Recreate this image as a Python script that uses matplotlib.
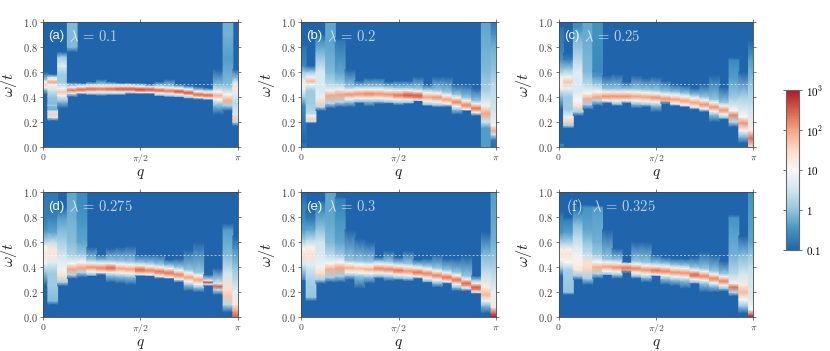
import numpy as np
import matplotlib
matplotlib.use("Agg")
import matplotlib.pyplot as plt
from matplotlib.colors import LogNorm, LinearSegmentedColormap

plt.rcParams["mathtext.fontset"] = "cm"
plt.rcParams["font.family"] = ["Liberation Sans", "DejaVu Sans"]

# spectral weight is kept as log10(A): -1 is the blue floor, 1 is the pale middle, 3 the top
# each column: ridge position, ridge level, lower and upper edge of the coloured part
# columns in *_cols are read as explicit (omega, log10 A) lists instead
a_peak = [.50, .52, .43, .455, .46, .465, .465, .465, .465, .465, .46, .46, .455, .45, .445, .435, .42, .415, .40, .375, .23]
a_level = [1.7, 2.0, 1.7, 2.3, 2.4, 2.4, 2.3, 2.4, 2.5, 2.5, 2.6, 2.5, 2.4, 2.3, 2.5, 2.5, 2.4, 2.4, 1.9, 1.9, 1.7]
a_low = [.42, .22, .32, .41, .42, .42, .41, .42, .42, .425, .425, .425, .41, .40, .40, .39, .38, .375, .26, .29, .18]
a_high = [.60, .58, .76, .52, .51, .52, .54, .52, .51, .51, .51, .50, .52, .54, .50, .49, .48, .47, .62, 1.0, .62]
a_cols = {
    1: [(.21, -1), (.235, .6), (.26, 1.6), (.285, .6), (.30, -.2), (.33, -.1), (.335, .2), (.345, -.1), (.40, 0), (.46, .6), (.50, 1.2), (.52, 2.0), (.54, 1.2), (.56, .5), (.58, -1)],
    2: [(.31, -1), (.36, -.1), (.41, .9), (.44, 1.7), (.47, .9), (.52, .1), (.58, .1), (.65, .7), (.72, .1), (.76, -1)],
    3: [(.40, -1), (.43, .8), (.455, 2.3), (.48, .9), (.52, -1), (.76, -1), (.80, -.1), (1.0, -.1)],
    18: [(.26, -1), (.33, -.1), (.38, 1.0), (.41, 1.9), (.44, 1.0), (.50, -.1), (.62, -1)],
    19: [(.29, -1), (.33, .2), (.375, 1.9), (.42, 1.0), (.50, -.1), (.70, -.4), (.90, -.2), (1.0, -.2)],
    20: [(.17, -1), (.20, .4), (.23, 1.7), (.26, .6), (.35, .3), (.42, .7), (.47, 1.3), (.52, .5), (.62, -1)],
}

b_peak = [.49, .525, .365, .41, .42, .42, .425, .425, .425, .42, .415, .415, .41, .40, .395, .38, .36, .335, .31, .267, .13]
b_level = [1.2, 1.8, 1.5, 2.0, 2.0, 2.1, 2.1, 2.2, 2.1, 2.1, 2.3, 2.5, 2.5, 2.0, 2.1, 2.0, 2.2, 2.2, 2.3, 2.0, 2.0]
b_low = [.33, .19, .29, .31, .32, .32, .35, .325, .345, .35, .335, .35, .37, .33, .32, .32, .26, .29, .25, 0, 0]
b_high = [.82, .65, .90, 1.0, .85, .62, .53, .55, .55, .52, .53, .53, .56, .50, .56, .56, .50, .50, .47, 1.0, 1.0]
b_cols = {
    0: [(0, -.8), (.03, -.8), (.033, -1), (.33, -.6), (.40, .2), (.47, .9), (.50, 1.2), (.53, .8), (.60, .1), (.65, -.6), (.70, -.7), (.80, -.8), (.82, -1)],
    1: [(.19, -1), (.205, .5), (.225, 1.6), (.25, .9), (.27, .3), (.35, .1), (.45, .1), (.50, .9), (.525, 1.8), (.56, .9), (.60, .1), (.65, -1)],
    2: [(.29, -1), (.32, .3), (.365, 1.5), (.40, .8), (.45, .6), (.60, .6), (.75, -.1), (.85, -.5), (.90, -1)],
    3: [(.31, -1), (.35, .3), (.41, 2.0), (.45, .9), (.50, .3), (.60, -.1), (.80, -.3), (1.0, -.3)],
    4: [(.32, -1), (.36, .3), (.42, 2.0), (.46, .9), (.52, 0), (.60, -.3), (.85, -.8), (.87, -1)],
    19: [(0, -.4), (.15, -.4), (.20, .5), (.267, 2.0), (.33, .9), (.45, .2), (.60, -.1), (1.0, -.3)],
    20: [(0, -.9), (.06, -.7), (.10, .5), (.13, 2.0), (.17, 1.1), (.30, .5), (.50, .3), (.60, 0), (.80, -.2), (.90, -.5), (1.0, -.8)],
}

c_peak = [.50, .52, .33, .385, .40, .405, .405, .405, .405, .40, .395, .385, .38, .37, .355, .34, .32, .295, .255, .19, .07]
c_level = [1.2, 1.7, 1.4, 1.9, 2.0, 2.1, 2.1, 2.1, 2.0, 2.0, 2.1, 2.1, 2.0, 2.0, 2.0, 2.1, 2.1, 2.1, 2.2, 2.1, 2.4]
c_low = [.30, .15, .25, .30, .33, .35, .33, .35, .31, .32, .28, .35, .33, .32, .30, .28, .20, .22, .16, .03, 0]
c_high = [.95, .75, 1.0, 1.0, 1.0, .57, .58, .52, .57, .55, .56, .53, .50, .49, .47, .50, .57, .48, .70, .60, .85]
c_cols = {
    0: [(0, -.8), (.02, -.5), (.03, -1), (.30, -1), (.40, -.1), (.47, .9), (.50, 1.2), (.56, .9), (.60, .2), (.70, -.5), (.80, -.7), (.95, -.8), (.96, -1)],
    1: [(.15, -1), (.17, .2), (.20, 1.6), (.24, .8), (.30, .1), (.40, .1), (.47, .8), (.52, 1.7), (.56, .9), (.62, .1), (.70, -.7), (.75, -1)],
    2: [(.25, -1), (.28, .2), (.33, 1.4), (.37, 1.0), (.45, .6), (.60, .7), (.70, .3), (.85, -.1), (.95, -.5), (1.0, -.6)],
    3: [(.30, -1), (.34, .2), (.385, 1.9), (.43, 1.0), (.50, .3), (.60, -.1), (.80, -.2), (1.0, -.3)],
    4: [(.33, -1), (.37, .3), (.40, 2.0), (.44, 1.0), (.50, .1), (.56, -.4), (.60, -.6), (1.0, -.5)],
    18: [(.16, -1), (.20, .3), (.255, 2.2), (.29, 1.0), (.40, .1), (.55, -.4), (.70, -.6), (.71, -1)],
    19: [(.03, -1), (.08, -.1), (.13, 1.0), (.19, 2.1), (.24, 1.0), (.40, .2), (.60, -1)],
    20: [(0, 1.5), (.07, 2.4), (.13, 1.2), (.30, .5), (.50, 0), (.70, -.4), (.85, -1)],
}

d_peak = [.50, .52, .33, .385, .395, .40, .395, .395, .39, .385, .38, .375, .365, .355, .34, .32, .30, .28, .245, .17, .03]
d_level = [1.3, 1.3, 1.4, 2.0, 2.0, 2.1, 2.2, 2.4, 2.0, 2.0, 2.4, 2.2, 2.3, 2.3, 2.2, 2.0, 2.0, 2.6, 2.5, 1.7, 2.5]
d_low = [.25, .10, .25, .31, .32, .33, .34, .28, .27, .26, .33, .33, .31, .31, .28, .21, .20, .25, .18, .04, 0]
d_high = [1.0, 1.0, .87, 1.0, 1.0, .56, .50, .55, .56, .57, .50, .50, .50, .46, .47, .54, .60, .34, .39, .75, .65]
d_cols = {
    0: [(.25, -1), (.33, -.2), (.43, .9), (.50, 1.3), (.56, 1.0), (.62, .1), (.70, -.5), (.78, -.7), (1.0, -.8)],
    1: [(.10, -1), (.13, -.1), (.25, .1), (.35, .1), (.44, .7), (.50, 1.3), (.55, 1.3), (.60, .4), (.68, -.3), (.80, -.7), (1.0, -.8)],
    2: [(.25, -1), (.28, .2), (.33, 1.4), (.38, .9), (.50, .5), (.60, .2), (.70, -.1), (.80, -.4), (.87, -.9)],
    3: [(.31, -1), (.34, .3), (.385, 2.0), (.43, 1.0), (.50, .2), (.60, -.05), (.80, -.2), (1.0, -.3)],
    4: [(.32, -1), (.36, .3), (.395, 2.0), (.44, 1.0), (.50, .1), (.60, -.3), (.80, -.5), (1.0, -.6)],
    17: [(.25, -1), (.265, .6), (.28, 2.6), (.295, .6), (.34, -1)],
    18: [(.18, -1), (.22, .4), (.245, 2.5), (.27, .6), (.39, -1)],
    19: [(.04, -1), (.10, .3), (.17, 1.7), (.22, 1.4), (.35, .5), (.50, -.1), (.70, -.4), (.75, -1)],
    20: [(0, 2.5), (.05, 2.0), (.10, 1.3), (.20, .8), (.30, .3), (.40, 0), (.55, -.5), (.65, -1)],
}

e_peak = [.50, .50, .35, .385, .395, .395, .39, .385, .39, .385, .375, .37, .36, .35, .335, .32, .30, .27, .237, .18, .03]
e_level = [1.4, 1.4, 1.5, 1.9, 2.0, 1.9, 1.8, 1.9, 2.2, 2.2, 2.3, 2.1, 2.3, 2.2, 2.2, 2.3, 2.3, 2.4, 2.5, 1.8, 3.0]
e_low = [.30, .13, .27, .28, .28, .30, .23, .27, .31, .29, .30, .29, .31, .28, .24, .27, .21, .21, .19, .03, 0]
e_high = [.90, .85, .92, 1.0, .95, .70, .63, .60, .48, .53, .48, .53, .46, .47, .50, .47, .47, .49, .33, .68, 1.0]
e_cols = {
    0: [(.30, -.6), (.42, .6), (.50, 1.4), (.55, 1.0), (.62, .1), (.70, -.4), (.80, -.6), (.90, -.7), (1.0, -1)],
    1: [(.13, -1), (.16, 0), (.30, .2), (.42, .7), (.50, 1.4), (.56, 1.1), (.62, .3), (.70, -.3), (.78, -.7), (.85, -1)],
    2: [(.27, -1), (.30, .2), (.35, 1.5), (.40, .9), (.50, .6), (.60, .5), (.70, 0), (.85, -.5), (.92, -.8)],
    3: [(.28, -1), (.32, .2), (.385, 1.9), (.43, 1.0), (.50, .3), (.60, -.1), (.80, -.3), (1.0, -.3)],
    4: [(.28, -1), (.33, .2), (.395, 2.0), (.44, 1.0), (.50, .1), (.60, -.3), (.80, -.5), (.95, -.7), (.96, -1)],
    19: [(.03, -1), (.09, -.1), (.13, .9), (.18, 1.8), (.24, 1.2), (.35, .4), (.50, -.1), (.68, -1)],
    20: [(0, 3.0), (.03, 2.5), (.08, 1.3), (.20, .8), (.40, .2), (.60, -.2), (1.0, -.4)],
}

f_peak = [.50, .50, .38, .40, .40, .405, .40, .395, .39, .38, .375, .37, .36, .355, .34, .33, .31, .29, .24, .20, .03]
f_level = [1.4, 1.4, 1.3, 1.5, 1.9, 2.0, 2.1, 2.3, 2.2, 2.1, 2.3, 2.2, 2.1, 2.1, 2.4, 2.2, 2.2, 2.2, 2.4, 1.8, 3.0]
f_low = [.33, .18, .30, .26, .31, .34, .31, .36, .31, .28, .33, .26, .25, .23, .27, .20, .20, .21, .17, .03, 0]
f_high = [.80, .78, .85, .90, .88, .70, .55, .44, .60, .60, .50, .48, .47, .47, .48, .52, .50, .45, .82, .65, 1.0]
f_cols = {
    0: [(.33, -1), (.40, .2), (.46, 1.1), (.50, 1.4), (.54, 1.1), (.60, .2), (.68, -.5), (.80, -.7), (.85, -1)],
    1: [(.18, -1), (.20, 0), (.30, .1), (.38, .2), (.44, 1.0), (.50, 1.4), (.54, 1.1), (.60, .2), (.68, -.4), (.78, -.7), (.80, -1)],
    2: [(.30, -1), (.33, .1), (.38, 1.3), (.45, 1.1), (.55, .7), (.65, .3), (.75, -.1), (.85, -.7), (.90, -1)],
    3: [(.26, -1), (.31, .2), (.40, 1.5), (.43, 1.4), (.50, .4), (.60, 0), (.70, -.3), (.88, -.5), (.90, -1)],
    4: [(.31, -1), (.35, .3), (.40, 1.9), (.44, 1.0), (.50, .1), (.60, -.2), (.88, -.4), (.89, -1)],
    18: [(.17, -1), (.20, .3), (.24, 2.4), (.27, 1.1), (.35, .3), (.50, -.2), (.80, -.5), (.82, -1)],
    19: [(.03, -1), (.09, .1), (.14, 1.0), (.20, 1.8), (.26, 1.2), (.35, .5), (.50, -.1), (.65, -1)],
    20: [(0, 3.0), (.025, 2.4), (.06, 1.0), (.15, .6), (.30, .5), (.40, .4), (.50, 0), (.60, -.3), (1.0, -.5)],
}

panel_tags = ["(a)", "(b)", "(c)", "(d)", "(e)", "(f)"]
panel_lams = ["0.1", "0.2", "0.25", "0.275", "0.3", "0.325"]
panels = [
    (a_peak, a_level, a_low, a_high, a_cols),
    (b_peak, b_level, b_low, b_high, b_cols),
    (c_peak, c_level, c_low, c_high, c_cols),
    (d_peak, d_level, d_low, d_high, d_cols),
    (e_peak, e_level, e_low, e_high, e_cols),
    (f_peak, f_level, f_low, f_high, f_cols),
]
pale_width = [.024, .036, .036, .036, .036, .036]

W, H = 830, 351
lefts = [43, 301.3, 558.7]
tops = [22, 192.3]
ax_w, ax_h = 194.7, 124.8

# top and bottom of RdBu_r are cut off in the original
rdbu = plt.get_cmap("RdBu_r")
cmap = LinearSegmentedColormap.from_list("rdbu_cut", rdbu(np.linspace(.1, .9, 256)))
norm = LogNorm(vmin=.1, vmax=1000)


def column_knots(peak, level, low, high, w):
    # ridge with a thick salmon core, pale shoulder, then a blue tail out to the edges
    knots = [(low, -1)]
    if low < peak - 1.7 * w:
        knots.append((peak - 1.7 * w, 0.0))
    knots += [(peak - w, .9), (peak - .45 * w, level - .35), (peak, level), (peak + .45 * w, level - .35), (peak + w, .9)]
    if high > peak + 1.7 * w:
        knots.append((peak + 1.7 * w, 0.0))
    knots.append((high, -1))
    return sorted(knots)


fig = plt.figure(figsize=(8.3, 3.51), dpi=100)
grey = "#444444"
dq = np.pi / 20

for i, (peak, level, low, high, cols) in enumerate(panels):
    x0 = lefts[i % 3]
    y0 = tops[i // 3]
    ax = fig.add_axes([x0 / W, 1 - (y0 + ax_h) / H, ax_w / W, ax_h / H])
    ax.set_facecolor(cmap(0.0))
    for k in range(21):
        if k in cols:
            knots = cols[k]
        else:
            knots = column_knots(peak[k], level[k], low[k], high[k], pale_width[i])
        om = np.array([p[0] for p in knots])
        val = 10.0 ** np.array([p[1] for p in knots])
        xs = [max(k - .5, 0) * dq, min(k + .5, 20) * dq]
        ax.pcolormesh(xs, om, np.column_stack([val, val]), shading="gouraud", cmap=cmap, norm=norm)
    ax.axhline(.5, color="white", lw=.7, ls=(0, (2, 2)), alpha=.6)
    ax.set_xlim(0, np.pi)
    ax.set_ylim(0, 1)
    ax.set_xticks([0, np.pi / 2, np.pi], ["$0$", r"$\pi/2$", r"$\pi$"])
    ax.set_yticks(np.arange(0, 1.01, .2), ["$%.1f$" % v for v in np.arange(0, 1.01, .2)])
    ax.tick_params(direction="out", length=2, width=.5, color=grey, labelcolor=grey,
                   labelsize=7.5, top=True, right=True, pad=2)
    ax.tick_params(axis="x", pad=1.5, labelsize=7)
    for s in ax.spines.values():
        s.set_linewidth(.6)
        s.set_color(grey)
    ax.set_xlabel("$q$", fontsize=11, color="#222222")
    ax.xaxis.set_label_coords(.5, -.16)
    ax.set_ylabel(r"$\omega/t$", fontsize=11.5, color="#222222")
    ax.yaxis.set_label_coords(-.125, .5)
    tag = panel_tags[i]
    if tag == "(f)":
        ax.text(7.5 / ax_w, .885, r"$\mathrm{(f)}$", color="white", fontsize=10.5, alpha=.9,
                transform=ax.transAxes, va="center")
        lam_x = 33 / ax_w
    else:
        ax.text(5 / ax_w, .885, tag, color="white", fontsize=9.5, alpha=.95,
                transform=ax.transAxes, va="center")
        lam_x = 25.5 / ax_w
    ax.text(lam_x, .885, r"$\lambda\,=\,%s$" % panel_lams[i], color="white", fontsize=10.5, alpha=.7,
            transform=ax.transAxes, va="center")

cax = fig.add_axes([786 / W, 1 - 250 / H, 12.7 / W, 160 / H])
sm = plt.cm.ScalarMappable(norm=norm, cmap=cmap)
cb = fig.colorbar(sm, cax=cax)
cb.set_ticks([.1, 1, 10, 100, 1000], labels=["$0.1$", "$1$", "$10$", "$10^2$", "$10^3$"])
cb.minorticks_off()
cb.outline.set_linewidth(.8)
cb.outline.set_edgecolor("#666666")
cax.tick_params(direction="out", length=2.5, width=.5, left=True, right=True, labelsize=8, pad=3, color="#333333")

fig.savefig("out.png", dpi=100)
